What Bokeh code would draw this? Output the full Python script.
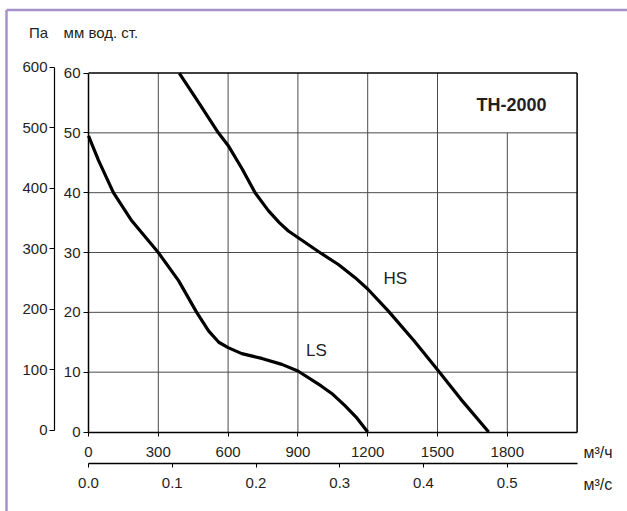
from bokeh.plotting import figure
from bokeh.models import Range1d, LinearAxis, FixedTicker, Label, PrintfTickFormatter
from bokeh.embed import file_html
from bokeh.resources import INLINE

# ---- data ----
flow_ticks = [0, 300, 600, 900, 1200, 1500, 1800]          # m3/h
flow_s_ticks = [0.0, 0.1, 0.2, 0.3, 0.4, 0.5]              # m3/s
mm_ticks = [0, 10, 20, 30, 40, 50, 60]                     # mm w.g.
pa_ticks = [0, 100, 200, 300, 400, 500, 600]               # Pa

hs_flow = [390, 473, 558, 600, 660, 716, 773, 820, 859, 900, 1002, 1074, 1146, 1200, 1289, 1400, 1500, 1600, 1720]
hs_mm = [60, 55.1, 50, 47.9, 44.0, 40, 37.0, 35.0, 33.6, 32.5, 29.8, 28.0, 25.8, 23.9, 20.2, 15.2, 10.4, 5.5, 0]

ls_flow = [0, 43, 107, 186, 300, 387, 465, 516, 560, 600, 659, 745, 831, 900, 1000, 1050, 1100, 1150, 1200]
ls_mm = [49.5, 45.4, 40.0, 35.3, 30.0, 25.3, 20.0, 16.9, 15.0, 14.1, 13.1, 12.3, 11.3, 10.2, 7.7, 6.3, 4.5, 2.5, 0]

FONT = "Liberation Sans"
TXT = "#231f20"
BORDER = "#a992cc"

W, H = 627, 511
# chart box: left edge at x 88 px, 300 m3/h per 69.8 px; bottom at y 431.5 px, 10 mm per 59.83 px
px_per_m3h = 69.8 / 300
px_per_mm = 5.983
x0_px, y0_px = 88, 431.5
x_start = -x0_px / px_per_m3h
x_end = (W - x0_px) / px_per_m3h
y_end = y0_px / px_per_mm
y_start = (y0_px - H) / px_per_mm
x_max = 2100
y_max = 60

p = figure(width=W, height=H, output_backend="svg", toolbar_location=None,
           x_range=Range1d(x_start, x_end), y_range=Range1d(y_start, y_end),
           min_border=0, x_axis_location=None, y_axis_location=None)
p.outline_line_color = None
p.xgrid.visible = False
p.ygrid.visible = False
p.background_fill_color = "white"
p.border_fill_color = "white"

def style_axis(ax, size="15px"):
    ax.major_label_text_font = FONT
    ax.major_label_text_font_size = size
    ax.major_label_text_color = TXT
    ax.minor_tick_line_color = None
    ax.major_tick_in = 0

# mm axis on the chart's left edge
mm_axis = LinearAxis(ticker=FixedTicker(ticks=mm_ticks), bounds=(0, y_max), fixed_location=0)
style_axis(mm_axis)
mm_axis.axis_line_width = 1.5
mm_axis.major_tick_out = 5
mm_axis.major_label_standoff = 3
p.add_layout(mm_axis, "left")

# Pa axis, further left
pa_per_mm = 600 / (61.0 - 0.334)
pa_off = 0.334
p.extra_y_ranges = {"pa": Range1d((y_start - pa_off) * pa_per_mm, (y_end - pa_off) * pa_per_mm)}
pa_axis = LinearAxis(y_range_name="pa", ticker=FixedTicker(ticks=pa_ticks), bounds=(0, 600),
                     fixed_location=-34 / px_per_m3h)
style_axis(pa_axis)
pa_axis.axis_line_width = 1.2
pa_axis.major_tick_out = 5
pa_axis.major_label_standoff = 2
p.add_layout(pa_axis, "left")

# m3/h axis on the chart's bottom edge
xh_axis = LinearAxis(ticker=FixedTicker(ticks=flow_ticks), bounds=(0, x_max), fixed_location=0)
style_axis(xh_axis)
xh_axis.axis_line_width = 1.5
xh_axis.major_tick_out = 4
xh_axis.major_label_standoff = 11
p.add_layout(xh_axis, "below")

# m3/s axis below
p.extra_x_ranges = {"s": Range1d(x_start / 3600, x_end / 3600)}
xs_axis = LinearAxis(x_range_name="s", ticker=FixedTicker(ticks=flow_s_ticks),
                     bounds=(0, x_max / 3600), formatter=PrintfTickFormatter(format="%.1f"),
                     fixed_location=-31.5 / px_per_mm)
style_axis(xs_axis)
xs_axis.axis_line_width = 1.3
xs_axis.major_tick_out = 4
xs_axis.major_label_standoff = 10
p.add_layout(xs_axis, "below")

# ---- lilac page border (left and top) ----
bx = (6 - x0_px) / px_per_m3h
by = (y0_px - 9.5) / px_per_mm
p.segment(x0=[bx, bx], y0=[y_start, by], x1=[bx, x_end], y1=[by, by], line_color=BORDER, line_width=2.5)

# ---- grid (from the tick lists) ----
GRID = "#4a4a4a"
vx = flow_ticks[1:]
p.segment(x0=vx, y0=[0] * len(vx), x1=vx, y1=[y_max] * len(vx), line_color=GRID, line_width=1)
# white box behind the model name
p.quad(left=[flow_ticks[-2] + 6], right=[x_max], bottom=[mm_ticks[-2]], top=[mm_ticks[-1]],
       fill_color="white", line_color=None)
hy = mm_ticks[1:-1]
p.segment(x0=[0] * len(hy), y0=hy, x1=[x_max] * len(hy), y1=hy, line_color=GRID, line_width=1)
# frame top and right
p.segment(x0=[0, x_max], y0=[y_max, 0], x1=[x_max, x_max], y1=[y_max, y_max],
          line_color="black", line_width=1.5)

# ---- curves ----
p.line(hs_flow, hs_mm, line_color="black", line_width=3.2, line_join="round")
p.line(ls_flow, ls_mm, line_color="black", line_width=3.2, line_join="round")

# ---- texts ----
def lab(x, y, t, size="15px", align="left", bold=False):
    p.add_layout(Label(x=x, y=y, text=t, text_font=FONT, text_font_size=size,
                       text_color=TXT, text_align=align, text_baseline="middle",
                       text_font_style="bold" if bold else "normal"))

lab(1319, 25.7, "HS", size="17px", align="center")
lab(980, 13.6, "LS", size="17px", align="center")
lab(1818, 54.7, "TH-2000", size="18px", align="center", bold=True)
lab(-215, 66.8, "Па", size="15px", align="center")
lab(-107, 66.8, "мм вод. ст.", size="15px", align="left")
lab(2127, -3.4, "м³/ч", size="16px", align="left")
lab(2127, -8.8, "м³/с", size="16px", align="left")

open("out.html", "w").write(file_html(p, INLINE))
